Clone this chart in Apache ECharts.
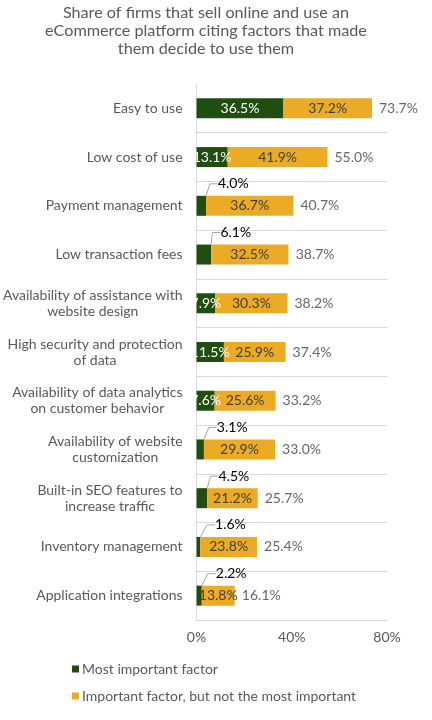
<!DOCTYPE html>
<html>
<head>
<meta charset="utf-8">
<script src="https://cdn.jsdelivr.net/npm/echarts@6/dist/echarts.min.js"></script>
<style>
html,body{margin:0;padding:0;background:#fff;}
#chart{width:432px;height:720px;}
</style>
</head>
<body>
<div id="chart"></div>
<script>
var titleText = 'Share of firms that sell online and use an\neCommerce platform citing factors that made\nthem decide to use them';
var categories = [
  'Easy to use',
  'Low cost of use',
  'Payment management',
  'Low transaction fees',
  'Availability of assistance with\nwebsite design',
  'High security and protection\nof data',
  'Availability of data analytics\non customer behavior',
  'Availability of website\ncustomization',
  'Built-in SEO features to\nincrease traffic',
  'Inventory management',
  'Application integrations'
];
var mostImportant = [36.5, 13.1, 4.0, 6.1, 7.9, 11.5, 7.6, 3.1, 4.5, 1.6, 2.2];
var important = [37.2, 41.9, 36.7, 32.5, 30.3, 25.9, 25.6, 29.9, 21.2, 23.8, 13.8];
var totals = [73.7, 55.0, 40.7, 38.7, 38.2, 37.4, 33.2, 33.0, 25.7, 25.4, 16.1];
var seriesNames = ['Most important factor', 'Important factor, but not the most important'];
var xTicks = [0, 40, 80];

var FONT = 'Lato';
var GRAY = '#595959';
var DARK = '#404040';
var GREEN = '#1f4e10';
var ORANGE = '#ebab24';
var LINE = '#d9d9d9';
var CALLOUT_LIMIT = 7;

var chart = echarts.init(document.getElementById('chart'), null, {renderer: 'canvas'});

var option = {
  animation: false,
  backgroundColor: '#fff',
  textStyle: {fontFamily: FONT},
  title: {
    text: titleText,
    left: 206,
    top: 4,
    padding: 0,
    textAlign: 'center',
    textStyle: {fontFamily: FONT, fontSize: 16.2, fontWeight: 'normal', color: GRAY, lineHeight: 18}
  },
  legend: {
    data: seriesNames,
    orient: 'vertical',
    left: 67,
    top: 657,
    itemWidth: 7,
    itemHeight: 7,
    itemGap: 13,
    icon: 'rect',
    textStyle: {fontFamily: FONT, fontSize: 14, color: GRAY, padding: [0, 0, 0, -2]}
  },
  grid: {left: 193, right: 45, top: 84, bottom: 100, containLabel: false},
  xAxis: {
    type: 'value',
    min: xTicks[0],
    max: xTicks[xTicks.length - 1],
    interval: xTicks[1] - xTicks[0],
    axisLine: {show: false},
    axisTick: {show: false},
    splitLine: {show: false},
    axisLabel: {formatter: '{value}%', fontFamily: FONT, fontSize: 14, color: GRAY, margin: 10}
  },
  yAxis: {
    type: 'category',
    inverse: true,
    data: categories,
    axisLine: {show: true, lineStyle: {color: LINE, width: 1}},
    axisTick: {show: false},
    splitLine: {show: true, showMinLine: false, lineStyle: {color: LINE, width: 1}},
    axisLabel: {
      margin: 14,
      formatter: function (v) {
        return v.split('\n').map(function (l) { return '{c|' + l + '}'; }).join('\n');
      },
      rich: {
        c: {align: 'center', fontFamily: FONT, fontSize: 14, color: GRAY, lineHeight: 16}
      }
    }
  },
  series: [
    {
      name: seriesNames[0],
      type: 'bar',
      stack: 'total',
      barWidth: 20,
      itemStyle: {color: GREEN},
      data: mostImportant.map(function (v) {
        if (v < CALLOUT_LIMIT) {
          return {
            value: v,
            label: {color: '#000000'},
            labelLine: {show: true, length2: 8, lineStyle: {color: '#a6a6a6', width: 1}}
          };
        }
        return v;
      }),
      label: {
        show: true,
        position: 'inside',
        color: '#ffffff',
        fontFamily: FONT,
        fontSize: 14,
        formatter: function (p) { return p.value.toFixed(1) + '%'; }
      },
      labelLayout: function (p) {
        if (mostImportant[p.dataIndex] < CALLOUT_LIMIT) {
          return {dx: 32, dy: -22};
        }
        return {};
      }
    },
    {
      name: seriesNames[1],
      type: 'bar',
      stack: 'total',
      barWidth: 20,
      itemStyle: {color: ORANGE},
      data: important,
      label: {
        show: true,
        position: 'inside',
        color: DARK,
        fontFamily: FONT,
        fontSize: 14,
        formatter: function (p) { return p.value.toFixed(1) + '%'; }
      }
    },
    {
      name: 'Total',
      type: 'scatter',
      symbolSize: 0,
      silent: true,
      data: totals.map(function (t, i) { return [t, categories[i]]; }),
      label: {
        show: true,
        position: 'right',
        distance: 7,
        color: DARK,
        fontFamily: FONT,
        fontSize: 14,
        formatter: function (p) { return totals[p.dataIndex].toFixed(1) + '%'; }
      }
    }
  ]
};
chart.setOption(option);
</script>
</body>
</html>
